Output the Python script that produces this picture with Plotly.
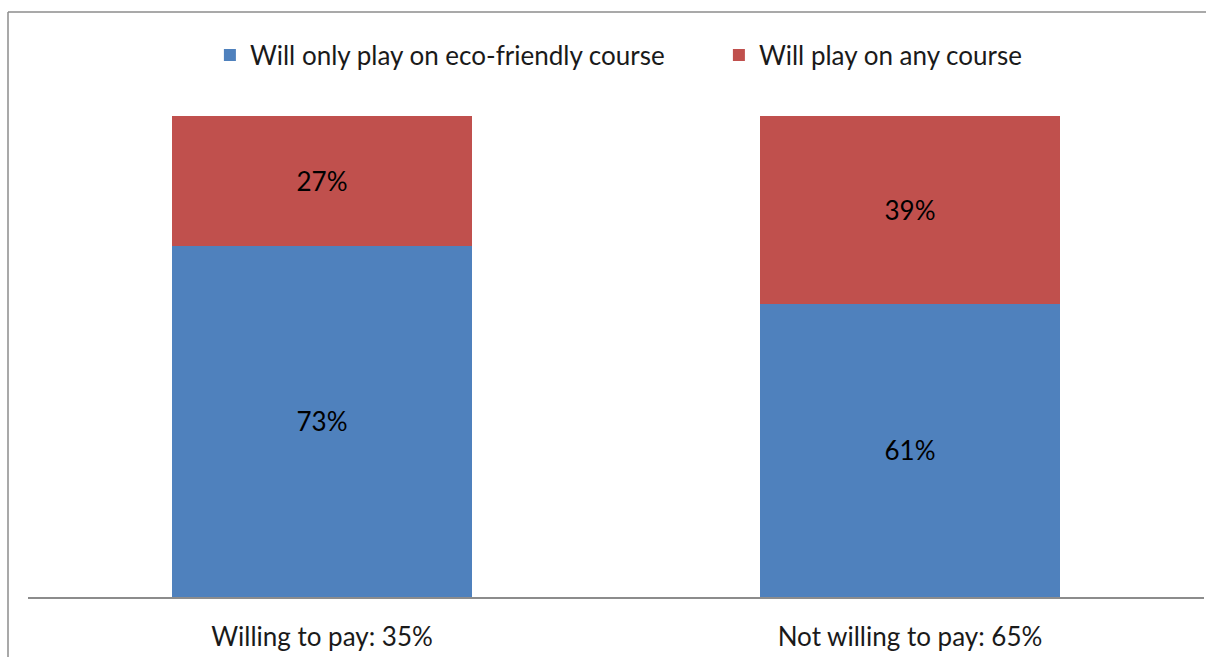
import plotly.graph_objects as go

categories = ["Willing to pay: 35%", "Not willing to pay: 65%"]
eco_only = [73, 61]
any_course = [27, 39]

W, H = 1206, 657
L, R, T, B = 28, 2, 116, 60
pw, ph = W - L - R, H - T - B
FS = 26

fig = go.Figure()
fig.add_trace(go.Bar(
    name="Will only play on eco-friendly course",
    x=categories, y=eco_only,
    marker=dict(color="#4F81BD", line=dict(width=0)),
    text=[f"{v}%" for v in eco_only],
    textposition="inside", insidetextanchor="middle",
    textfont=dict(color="#000000", size=FS),
))
fig.add_trace(go.Bar(
    name="Will play on any course",
    x=categories, y=any_course,
    marker=dict(color="#C0504D", line=dict(width=0)),
    text=[f"{v}%" for v in any_course],
    textposition="inside", insidetextanchor="middle",
    textfont=dict(color="#000000", size=FS),
))

# outer frame: only the top and left edges are visible
fx = (8 - L) / pw
fy = (H - B - 12) / ph
x_right = (W - L) / pw
y_bottom = -B / ph
fig.add_shape(type="line", xref="paper", yref="paper",
              x0=fx, x1=x_right, y0=fy, y1=fy,
              line=dict(color="#8C8C8C", width=1.5))
fig.add_shape(type="line", xref="paper", yref="paper",
              x0=fx, x1=fx, y0=fy, y1=y_bottom,
              line=dict(color="#8C8C8C", width=1.5))

fig.update_layout(
    width=W, height=H,
    margin=dict(l=L, r=R, t=T, b=B, autoexpand=False),
    barmode="stack", bargap=0.49,
    paper_bgcolor="white", plot_bgcolor="white",
    font=dict(family="Lato, Noto Sans, sans-serif", size=FS, color="#1a1a1a"),
    showlegend=True,
    legend=dict(orientation="h", x=0.5875, xanchor="center",
                y=(H - B - 55) / ph, yanchor="middle",
                font=dict(size=FS), itemsizing="constant",
                entrywidth=464, entrywidthmode="pixels",
                traceorder="normal", bgcolor="rgba(0,0,0,0)"),
    uniformtext=dict(minsize=10, mode="show"),
)
fig.update_xaxes(showline=True, linecolor="#8C8C8C", linewidth=1.5,
                 range=[-0.5, 1.5], automargin=False,
                 ticks="outside", ticklen=16, tickcolor="rgba(0,0,0,0)",
                 showgrid=False, tickfont=dict(size=FS, color="#1a1a1a"))
fig.update_yaxes(range=[0, 100], visible=False, showgrid=False, automargin=False)

fig.write_html("out.html", config={"displayModeBar": False})
